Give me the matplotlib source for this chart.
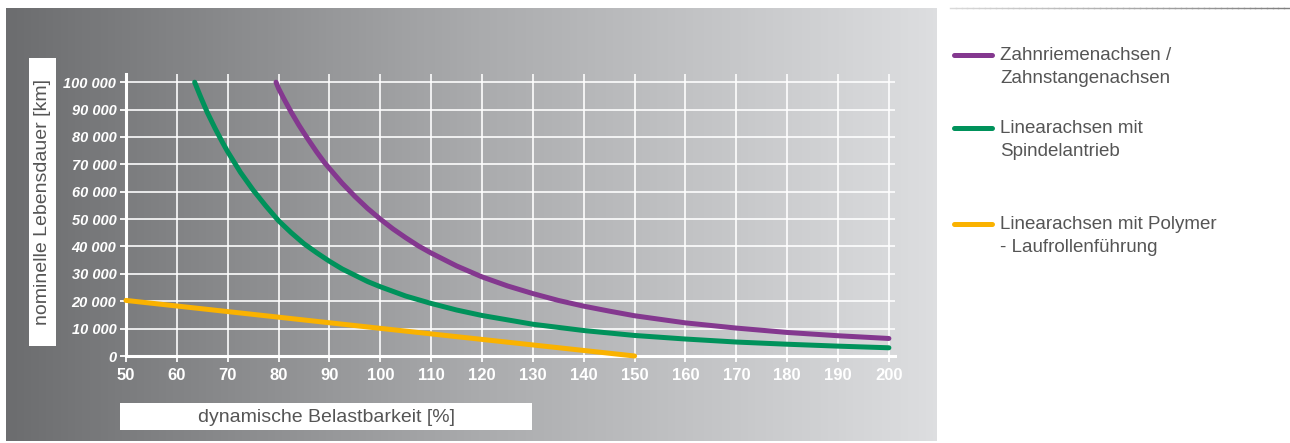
import matplotlib
matplotlib.use('Agg')

import matplotlib.pyplot as plt
import numpy as np
from matplotlib.colors import LinearSegmentedColormap

x_zahnriemen = [79.5, 80, 81, 82.5, 84, 85, 86, 87.5, 89, 90, 92.5, 95, 97.5, 100, 102.5, 105, 107.5, 110,
                115, 120, 125, 130, 135, 140, 145, 150, 160, 170, 180, 190, 200]
y_zahnriemen = [100000, 97700, 94100, 89000, 84300, 81400, 78600, 74500, 70700, 68500, 63100, 58300, 53900, 50000,
                46400, 43200, 40200, 37600, 32900, 28900, 25600, 22800, 20300, 18200, 16400, 14700, 12100, 10200,
                8600, 7400, 6400]

x_spindel = [63.5, 64.5, 65, 66, 67.5, 69, 70, 71, 72.5, 74, 75, 77.5, 80, 82.5, 85, 87.5, 90, 92.5, 95, 97.5,
             100, 105, 110, 115, 120, 130, 140, 150, 160, 170, 180, 190, 200]
y_spindel = [100000, 95400, 93200, 88900, 83200, 77900, 74600, 71600, 67100, 63200, 60600, 54800, 49400, 45000,
             41000, 37700, 34600, 31800, 29500, 27200, 25300, 21900, 19200, 16800, 14800, 11600, 9300, 7500, 6200,
             5100, 4300, 3600, 3000]

x_polymer = [50, 100, 150]
y_polymer = [20300, 10100, 0]

x_ticks = list(range(50, 201, 10))
y_ticks = list(range(0, 100001, 10000))
y_ticklabels = ['0'] + [f'{v // 1000} 000' for v in y_ticks[1:]]

serien = [
    ('Zahnriemenachsen /\nZahnstangenachsen', x_zahnriemen, y_zahnriemen, '#84388f'),
    ('Linearachsen mit\nSpindelantrieb', x_spindel, y_spindel, '#00925b'),
    ('Linearachsen mit Polymer\n- Laufrollenführung', x_polymer, y_polymer, '#fab200'),
]

W, H = 1290, 443
fig = plt.figure(figsize=(W / 100, H / 100), dpi=100)
fig.patch.set_facecolor('white')

def px(x0, y0, x1, y1):
    # Pixelrechteck (oben links / unten rechts) in Figure-Koordinaten
    return [x0 / W, 1 - y1 / H, (x1 - x0) / W, (y1 - y0) / H]

narrow = ['Liberation Sans Narrow', 'Liberation Sans', 'DejaVu Sans']
light = ['Liberation Sans', 'DejaVu Sans']

# grauer Verlaufshintergrund
bg = fig.add_axes(px(6, 8, 937, 441), zorder=0)
cmap = LinearSegmentedColormap.from_list('bg', ['#6c6d6f', '#a9aaac', '#dddee0'])
bg.imshow(np.linspace(0, 1, 256)[None, :], cmap=cmap, aspect='auto', extent=(0, 1, 0, 1))
bg.axis('off')

# weisse Boxen fuer die Achsentitel
lab = fig.add_axes([0, 0, 1, 1], zorder=1)
lab.set_xlim(0, W)
lab.set_ylim(H, 0)
lab.axis('off')
lab.add_patch(plt.Rectangle((29, 58), 27, 288, facecolor='white', edgecolor='none'))
lab.add_patch(plt.Rectangle((120, 403), 412, 27, facecolor='white', edgecolor='none'))
lab.text(43, 202, 'nominelle Lebensdauer [km]', rotation=90, ha='center', va='center',
         fontsize=14, color='#555555', family=light)
lab.text(327, 417, 'dynamische Belastbarkeit [%]', ha='center', va='center',
         fontsize=14, color='#555555', family=light)

# Diagramm
ax = fig.add_axes(px(126, 74, 895, 356), zorder=2)
ax.patch.set_alpha(0)
ax.set_xlim(50, 201.2)
ax.set_ylim(0, 103000)
ax.set_xticks(x_ticks)
ax.set_yticks(y_ticks)
ax.set_yticklabels(y_ticklabels)
ax.grid(True, color='white', linewidth=1.3, alpha=0.9)
ax.set_axisbelow(True)
for s in ['top', 'right']:
    ax.spines[s].set_visible(False)
for s in ['left', 'bottom']:
    ax.spines[s].set_color('white')
    ax.spines[s].set_linewidth(2.2)
ax.tick_params(axis='both', colors='white', length=4, width=1.3, direction='out')
ax.tick_params(axis='x', pad=5)
ax.tick_params(axis='y', pad=3)
for t in ax.get_xticklabels():
    t.set_fontfamily(narrow)
    t.set_fontweight('bold')
    t.set_fontsize(12)
for t in ax.get_yticklabels():
    t.set_fontfamily(narrow)
    t.set_fontweight('bold')
    t.set_fontstyle('italic')
    t.set_fontsize(10.5)

for name, xs, ys, col in serien:
    ax.plot(xs, ys, color=col, linewidth=3.6, solid_capstyle='round', solid_joinstyle='round',
            zorder=3, clip_on=False)

# Legende rechts
top = np.linspace(950, 1290, 60)
for i in range(len(top) - 1):
    g = 0.85 - 0.35 * i / (len(top) - 2)
    lab.plot(top[i:i + 2], [7.5, 7.5], color=(g, g, g), linewidth=1)
leg_y = [55, 128, 224]
for (name, xs, ys, col), yy in zip(serien, leg_y):
    lab.plot([954, 992], [yy, yy], color=col, linewidth=3.6, solid_capstyle='round')
    for i, line in enumerate(name.split('\n')):
        lab.text(1000, yy + i * 23, line, ha='left', va='center', fontsize=13.5,
                 color='#555555', family=light)

fig.savefig('out.png', dpi=100)
plt.close(fig)
